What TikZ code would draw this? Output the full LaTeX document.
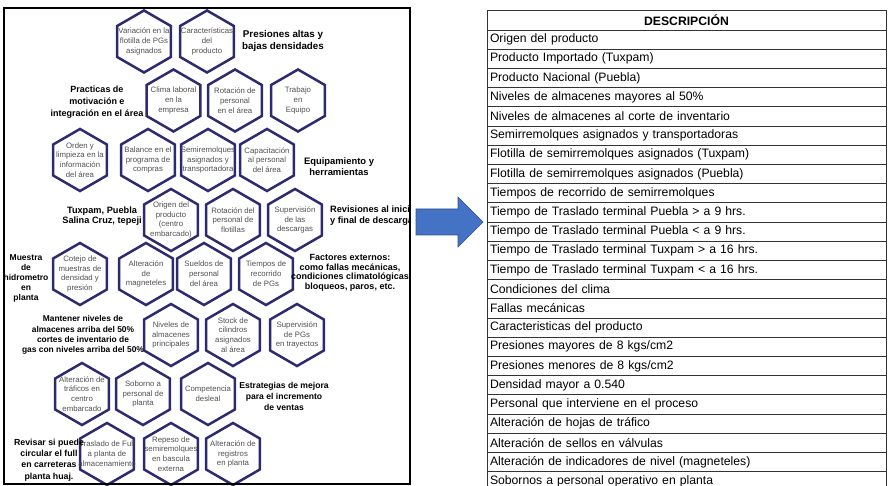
\documentclass[tikz,border=0pt]{standalone}
\usepackage{fontspec}
\setmainfont{Liberation Sans}
\usepackage{tikz}
\usetikzlibrary{positioning}

\definecolor{hexblue}{RGB}{46,42,112}
\definecolor{hexgray}{RGB}{80,80,80}
\definecolor{arrowblue}{RGB}{68,114,196}
\definecolor{arrowedge}{RGB}{47,82,143}

\begin{document}
\begin{tikzpicture}[x=1pt, y=-1pt]
  \tikzstyle{hexnode} = [align=center, inner sep=0pt, text=hexgray, font=\fontsize{7.8}{9.8}\selectfont]
  \tikzstyle{hexline} = [draw=hexblue, line width=2.5pt]
  \tikzstyle{tag} = [align=center, inner sep=0pt]
  \tikzstyle{cell} = [draw=black!80, line width=0.8pt, minimum height=19.2pt, inner ysep=0pt, inner xsep=3pt, text width=393pt, align=left, font=\fontsize{12.2}{14}\selectfont]

  \useasboundingbox (0,0) rectangle (889,486);

  % hexagons of the left panel
  \begin{scope}
    \clip (0,0) rectangle (410,486);
    \foreach \n/\x/\y/\t in {
      h11/144/41.5/{Variación en la\\flotilla de PGs\\asignados},
      h12/207/41.5/{Características\\del\\producto},
      h21/173.5/100.5/{Clima laboral\\en la\\empresa},
      h22/235/100.5/{Rotación de\\personal\\en el área},
      h23/298/100.5/{Trabajo\\en\\Equipo},
      h31/80/160/{Orden y\\limpieza en la\\información\\del área},
      h32/148/160/{Balance en el\\programa de\\compras},
      h33/208/160/{Semiremolques\\asignados y\\transportadora},
      h34/267/160/{Capacitación\\al personal\\del área},
      h41/171/220/{Origen del\\producto\\(centro\\embarcado)},
      h42/233/220/{Rotación del\\personal de\\flotillas},
      h43/295/220/{Supervisión\\de las\\descargas},
      h51/80/274/{Cotejo de\\muestras de\\densidad y\\presión},
      h52/146/274/{Alteración\\de\\magneteles},
      h53/204/274/{Sueldos de\\personal\\del área},
      h54/266/274/{Tiempos de\\recorrido\\de PGs},
      h61/171/335/{Niveles de\\almacenes\\principales},
      h62/233/335/{Stock de\\cilindros\\asignados\\al área},
      h63/297/335/{Supervisión\\de PGs\\en trayectos},
      h71/82/394/{Alteración de\\tráficos en\\centro\\embarcado},
      h72/143/394/{Soborno a\\personal de\\planta},
      h73/208/394/{Competencia\\desleal},
      h81/107/454/{Traslado de Full\\a planta de\\almacenamiento},
      h82/171/454/{Repeso de\\semiremolques\\en bascula\\externa},
      h83/233/454/{Alteración de\\registros\\en planta}}{
      \draw[hexline] (\x,\y) +(90:31) -- +(150:31) -- +(210:31) -- +(270:31) -- +(330:31) -- +(30:31) -- cycle;
      \node[hexnode] (\n) at (\x,\y) {\t};
    }

    \node[tag, font=\bfseries\fontsize{9.8}{11.7}\selectfont] (presiones) at (283,41) {Presiones altas y\\bajas densidades};
    \node[tag, font=\bfseries\fontsize{9}{12}\selectfont] (motivacion) at (97,102) {Practicas de\\motivación e\\integración en el área};
    \node[tag, font=\bfseries\fontsize{9.4}{11}\selectfont] (equipo) at (339,167) {Equipamiento y\\herramientas};
    \node[tag, font=\bfseries\fontsize{9.2}{10.5}\selectfont] (plantas) at (102,216) {Tuxpam, Puebla\\Salina Cruz, tepeji};
    \node[tag, anchor=west, align=left, font=\bfseries\fontsize{9.2}{11}\selectfont] (revisiones) at (330,216) {Revisiones al inicio\\y final de descarga};
    \node[tag, font=\bfseries\fontsize{8.5}{10}\selectfont] (muestra) at (26,278) {Muestra\\de\\hidrometro\\en\\planta};
    \node[tag, font=\bfseries\fontsize{9}{9.6}\selectfont] (factores) at (350,273) {Factores externos:\\como fallas mecánicas,\\condiciones climatológicas\\bloqueos, paros, etc.};
    \node[tag, font=\bfseries\fontsize{8.4}{10.2}\selectfont] (mantener) at (83,335) {Mantener niveles de\\almacenes arriba del 50\%\\cortes de inventario de\\gas con niveles arriba del 50\%};
    \node[tag, font=\bfseries\fontsize{8.6}{11}\selectfont] (estrategias) at (284,396) {Estrategias de mejora\\para el incremento\\de ventas};
    \node[tag, font=\bfseries\fontsize{8.8}{11.3}\selectfont] (revisar) at (49,460) {Revisar si puede\\circular el full\\en carreteras\\planta huaj.};
  \end{scope}
  \draw[line width=2pt] (4,8) rectangle (410,484);

  % block arrow
  \fill[arrowblue, draw=arrowedge, line width=0.6pt] (416,209) -- (458,209) -- (458,197) -- (483,222) -- (458,247) -- (458,235) -- (416,235) -- cycle;

  % table
  \node[cell, align=center, font=\bfseries\fontsize{12.2}{14}\selectfont, minimum height=20pt] (head) at (686.5,20) {DESCRIPCIÓN};
  \foreach \t [count=\i] in {Origen del producto, Producto Importado (Tuxpam), Producto Nacional (Puebla),
      Niveles de almacenes mayores al 50\%, Niveles de almacenes al corte de inventario,
      Semirremolques asignados y transportadoras, Flotilla de semirremolques asignados (Tuxpam),
      Flotilla de semirremolques asignados (Puebla), Tiempos de recorrido de semirremolques,
      Tiempo de Traslado terminal Puebla > a 9 hrs., Tiempo de Traslado terminal Puebla < a 9 hrs.,
      Tiempo de Traslado terminal Tuxpam > a 16 hrs., Tiempo de Traslado terminal Tuxpam < a 16 hrs.,
      Condiciones del clima, Fallas mecánicas, Caracteristicas del producto,
      Presiones mayores de 8 kgs/cm2, Presiones menores de 8 kgs/cm2, Densidad mayor a 0.540,
      Personal que interviene en el proceso, Alteración de hojas de tráfico,
      Alteración de sellos en válvulas, Alteración de indicadores de nivel (magneteles),
      Sobornos a personal operativo en planta}{
    \node[cell] (r\i) at (686.5,{20.4+19.2*\i}) {\t};
  }
\end{tikzpicture}
\end{document}
